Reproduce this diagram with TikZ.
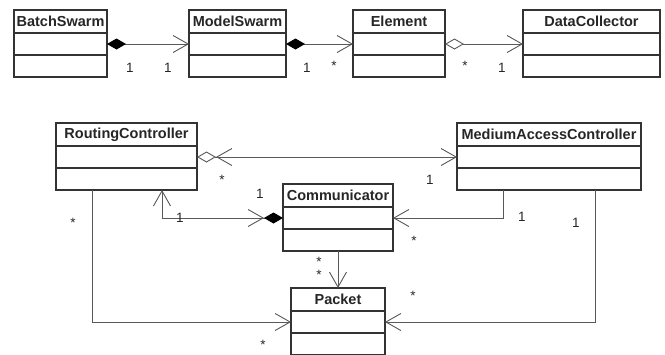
\documentclass[tikz,border=0pt]{standalone}
\usepackage{fontspec}
\setmainfont{Liberation Sans}
\usetikzlibrary{positioning,arrows.meta}

\tikzset{
  clstitle/.style={draw=black!80, line width=1.2pt, fill=white, outer sep=0pt, inner sep=0pt,
    minimum height=23pt, font=\bfseries\fontsize{14.5}{16}\selectfont, text=black!85},
  clspart/.style={draw=black!80, line width=1.2pt, fill=white, outer sep=0pt, minimum height=22pt},
  link/.style={draw=black!65, line width=0.9pt},
  mult/.style={font=\fontsize{13.5}{15}\selectfont, text=black!85, inner sep=0pt},
  navi/.tip={Straight Barb[length=15pt,width=17pt]},
  compo/.tip={Diamond[length=19pt,width=11pt,black]},
  aggr/.tip={Diamond[open,length=19pt,width=11pt,fill=white]},
}

% one class box: name, left, top, width, title
\newcommand{\umlclass}[5]{%
  \node[clstitle, minimum width=#4pt, anchor=north west] (#1) at (#2,#3) {#5};
  \node[clspart, minimum width=#4pt, below=0pt of #1] (#1-a) {};
  \node[clspart, minimum width=#4pt, below=0pt of #1-a] (#1-o) {};
}

\begin{document}
\begin{tikzpicture}[x=1pt,y=-1pt]
  \useasboundingbox (0,0) rectangle (665,354);
  % swarm classes
  \umlclass{bs}{14}{10}{93}{BatchSwarm}
  \umlclass{ms}{189}{10}{97}{ModelSwarm}
  \umlclass{el}{353}{10}{92}{Element}
  \umlclass{dc}{523}{10}{137}{DataCollector}
  % network classes
  \umlclass{rc}{56}{123}{141}{RoutingController}
  \umlclass{mac}{457}{123}{184}{MediumAccessController}
  \umlclass{cm}{283}{184}{110}{Communicator}
  \umlclass{pk}{291}{288}{94}{Packet}

  \draw[link, {compo[]}-{navi[]}] (bs-a.east) -- (ms-a.west);
  \draw[link, {compo[]}-{navi[]}] (ms-a.east) -- (el-a.west);
  \draw[link, {aggr[]}-{navi[]}] (el-a.east) -- (dc-a.west);
  \node[mult] (m1) at (130,68) {1};
  \node[mult] (m2) at (168,68) {1};
  \node[mult] (m3) at (307,68) {1};
  \node[mult] (m4) at (334,66) {*};
  \node[mult] (m5) at (465,66) {*};
  \node[mult] (m6) at (502,68) {1};

  \draw[link, {aggr[]navi[]}-{navi[]}] (rc-a.east) -- (mac-a.west);
  \draw[link, {navi[]}-{navi[]compo[]}] ([xshift=106pt]rc-o.south west) |- (cm-a.west);
  \draw[link, -{navi[]}] ([xshift=36pt]rc-o.south west) |- (pk-a.west);
  \draw[link, -{navi[]}] ([xshift=46pt]mac-o.south west) |- (cm-a.east);
  \draw[link, -{navi[]}] ([xshift=138pt]mac-o.south west) |- (pk-a.east);
  \draw[link, -{navi[]}] (cm-o.south) -- (pk.north);
  \node[mult] (n1) at (222,180) {*};
  \node[mult] (n2) at (430,180) {1};
  \node[mult] (n3) at (260,194) {1};
  \node[mult] (n4) at (180,218) {1};
  \node[mult] (n5) at (73,223) {*};
  \node[mult] (n6) at (522,217) {1};
  \node[mult] (n7) at (576,223) {1};
  \node[mult] (n8) at (414,241) {*};
  \node[mult] (n9) at (319,262) {*};
  \node[mult] (n10) at (319,275) {*};
  \node[mult] (n11) at (413,296) {*};
  \node[mult] (n12) at (263,345) {*};
\end{tikzpicture}
\end{document}
